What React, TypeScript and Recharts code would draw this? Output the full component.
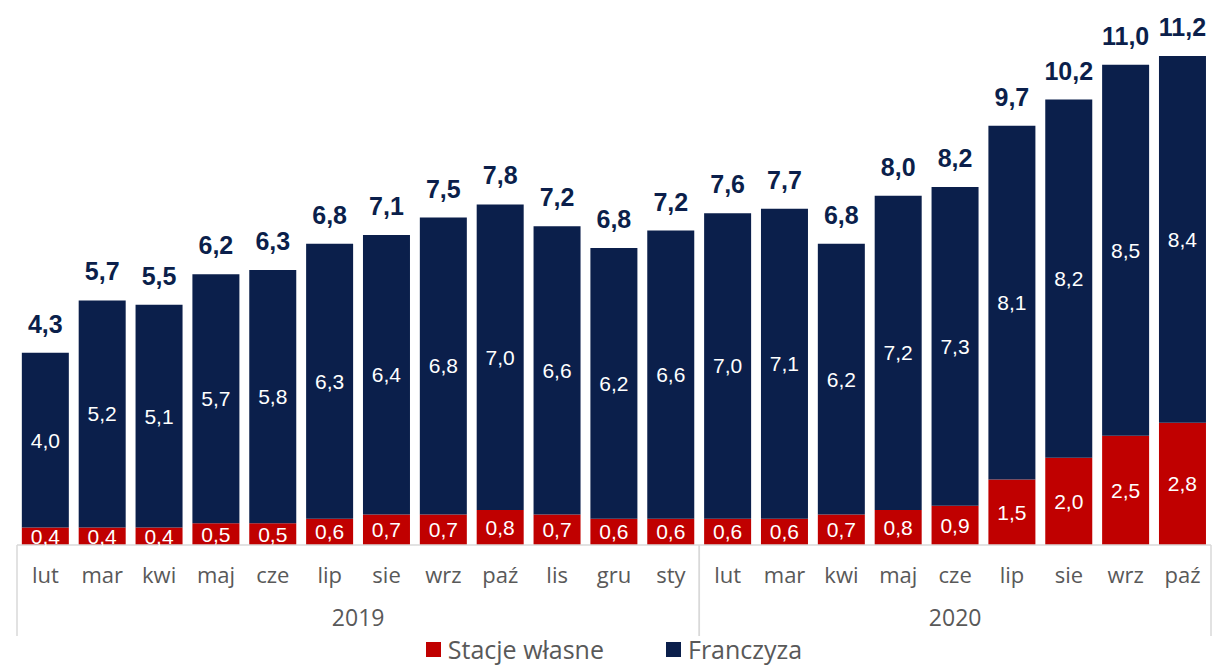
import React from 'react';
import { Bar, BarChart, LabelList, Legend, XAxis, YAxis } from 'recharts';

const months = ['lut', 'mar', 'kwi', 'maj', 'cze', 'lip', 'sie', 'wrz', 'paź', 'lis', 'gru', 'sty', 'lut', 'mar', 'kwi', 'maj', 'cze', 'lip', 'sie', 'wrz', 'paź'];
const wlasne = [0.4, 0.4, 0.4, 0.5, 0.5, 0.6, 0.7, 0.7, 0.8, 0.7, 0.6, 0.6, 0.6, 0.6, 0.7, 0.8, 0.9, 1.5, 2.0, 2.5, 2.8];
const franczyza = [4.0, 5.2, 5.1, 5.7, 5.8, 6.3, 6.4, 6.8, 7.0, 6.6, 6.2, 6.6, 7.0, 7.1, 6.2, 7.2, 7.3, 8.1, 8.2, 8.5, 8.4];
const totals = [4.3, 5.7, 5.5, 6.2, 6.3, 6.8, 7.1, 7.5, 7.8, 7.2, 6.8, 7.2, 7.6, 7.7, 6.8, 8.0, 8.2, 9.7, 10.2, 11.0, 11.2];
const years = [
  { label: '2019', first: 0, last: 11 },
  { label: '2020', first: 12, last: 20 },
];

const data = months.map((m, i) => ({
  key: `${m}-${i}`,
  month: m,
  wlasne: wlasne[i],
  franczyza: franczyza[i],
}));

const W = 1223;
const H = 666;
const MARGIN = { top: 21, right: 12, left: 17, bottom: 3 };
const BAND = (W - MARGIN.left - MARGIN.right) / months.length;
const AXIS_Y = 545;

const NAVY = '#0b1f4b';
const RED = '#c00000';
const GREY = '#595959';
const LINE = '#d9d9d9';
const AXIS_FONT = '"Open Sans", "Noto Sans", sans-serif';
const LABEL_FONT = '"Liberation Sans", Arial, sans-serif';

const fmt = (v: number) => v.toFixed(1).replace('.', ',');

function MonthTick(props: any) {
  const { x, payload } = props;
  const i = payload.index;
  const parts: React.ReactNode[] = [
    <text key="m" x={x} y={AXIS_Y + 38} textAnchor="middle" fill={GREY} fontSize={22} fontFamily={AXIS_FONT}>
      {months[i]}
    </text>,
  ];
  years.forEach((yr) => {
    if (i === yr.first) {
      parts.push(<line key="l0" x1={x - BAND / 2} x2={x - BAND / 2} y1={AXIS_Y} y2={636} stroke={LINE} strokeWidth={1.5} />);
      const cx = x + ((yr.last - yr.first) * BAND) / 2;
      parts.push(
        <text key="y" x={cx} y={AXIS_Y + 81} textAnchor="middle" fill={GREY} fontSize={23} fontFamily={AXIS_FONT}>
          {yr.label}
        </text>
      );
    }
    if (i === yr.last) {
      parts.push(<line key="l1" x1={x + BAND / 2} x2={x + BAND / 2} y1={AXIS_Y} y2={636} stroke={LINE} strokeWidth={1.5} />);
    }
  });
  return <g>{parts}</g>;
}

function TotalLabel(props: any) {
  const { x, y, width, index } = props;
  return (
    <text x={x + width / 2} y={y - 20} textAnchor="middle" fill={NAVY} fontSize={25} fontWeight="bold" fontFamily={LABEL_FONT}>
      {fmt(totals[index])}
    </text>
  );
}

function LegendContent() {
  const items = [
    { label: 'Stacje własne', color: RED },
    { label: 'Franczyza', color: NAVY },
  ];
  return (
    <div style={{ display: 'flex', justifyContent: 'center', gap: 62, height: 28, alignItems: 'center' }}>
      {items.map((it) => (
        <div key={it.label} style={{ display: 'flex', alignItems: 'center', gap: 7, height: 28 }}>
          <span style={{ width: 15, height: 15, background: it.color, display: 'inline-block' }} />
          <span style={{ color: GREY, fontSize: 25, lineHeight: '28px', fontFamily: AXIS_FONT }}>{it.label}</span>
        </div>
      ))}
    </div>
  );
}

export default function App() {
  return (
    <div style={{ position: 'absolute', left: 0, top: 0, width: W, height: H, background: '#fff' }}>
      <BarChart width={W} height={H} data={data} margin={MARGIN} barCategoryGap="8.5%">
        <XAxis
          dataKey="key"
          height={90}
          interval={0}
          tickLine={false}
          axisLine={{ stroke: LINE, strokeWidth: 1.5 }}
          tick={<MonthTick />}
        />
        <YAxis hide domain={[0, 12]} />
        <Legend verticalAlign="bottom" content={<LegendContent />} />
        <Bar dataKey="wlasne" name="Stacje własne" stackId="a" fill={RED} isAnimationActive={false}>
          <LabelList
            dataKey="wlasne"
            position="center"
            formatter={(v: any) => fmt(Number(v))}
            fill="#fff"
            fontSize={21}
            fontFamily={LABEL_FONT}
          />
        </Bar>
        <Bar dataKey="franczyza" name="Franczyza" stackId="a" fill={NAVY} isAnimationActive={false}>
          <LabelList
            dataKey="franczyza"
            position="center"
            formatter={(v: any) => fmt(Number(v))}
            fill="#fff"
            fontSize={21}
            fontFamily={LABEL_FONT}
          />
          <LabelList dataKey="franczyza" content={<TotalLabel />} />
        </Bar>
      </BarChart>
    </div>
  );
}
